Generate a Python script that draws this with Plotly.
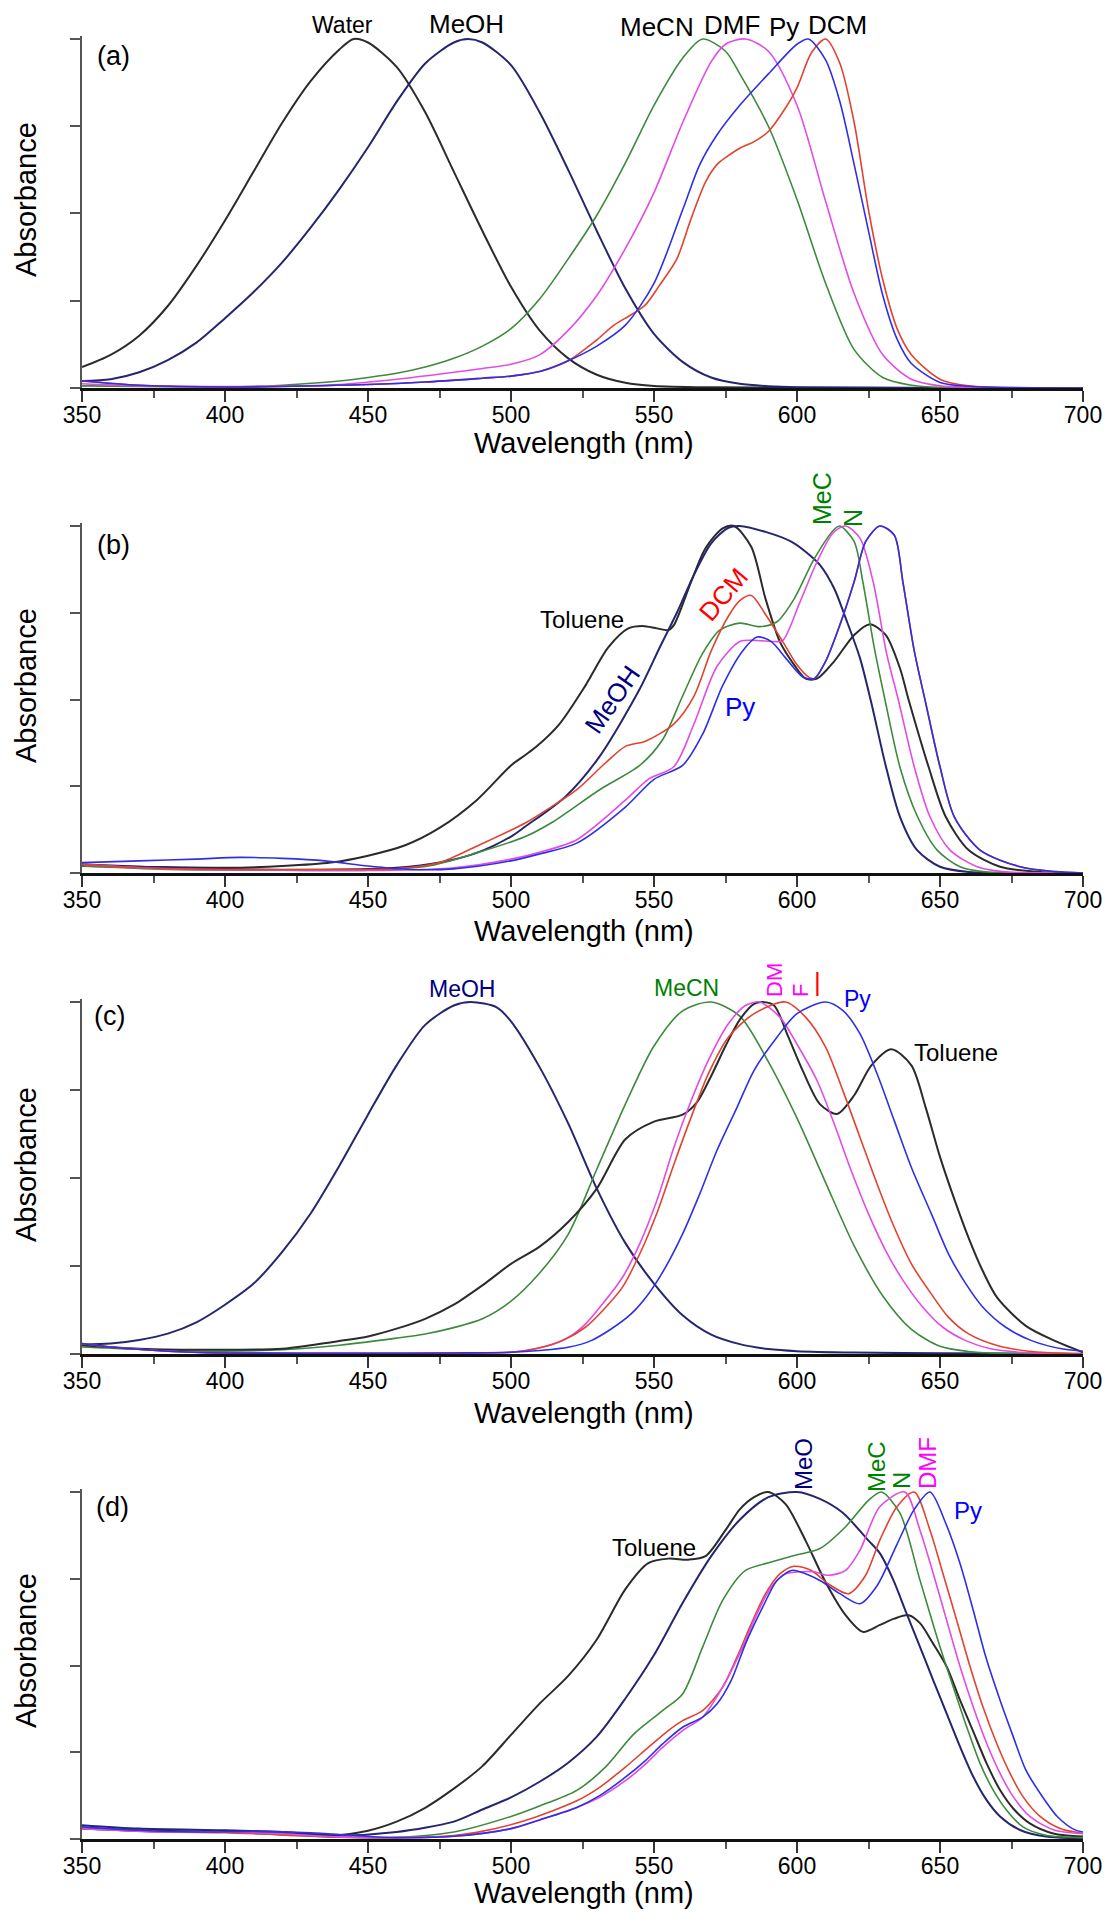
import plotly.graph_objects as go

# ---------------- DATA ----------------
# Panel (a)
A_WATER_WL = [350,360,370,380,390,400,410,420,430,440,445,450,460,470,480,490,500,510,520,530,540,550,570,600,650,700]
A_WATER_AB = [0.06,0.095,0.15,0.235,0.35,0.48,0.62,0.76,0.88,0.97,1.0,0.99,0.92,0.79,0.62,0.45,0.29,0.165,0.085,0.038,0.015,0.006,0.002,0.001,0,0]
A_MEOH_WL = [350,360,370,380,390,400,410,420,430,440,450,460,470,480,485,490,500,510,520,530,540,550,560,570,580,590,600,650,700]
A_MEOH_AB = [0.02,0.025,0.045,0.08,0.13,0.2,0.275,0.36,0.46,0.57,0.69,0.82,0.93,0.99,1.0,0.99,0.925,0.79,0.625,0.45,0.285,0.155,0.075,0.03,0.012,0.005,0.002,0,0]
A_MECN_WL = [350,380,400,420,440,450,460,470,480,490,500,510,520,530,540,550,560,567,575,580,590,600,610,620,630,640,650,700]
A_MECN_AB = [0.006,0.004,0.003,0.008,0.02,0.03,0.042,0.06,0.085,0.12,0.17,0.255,0.37,0.495,0.645,0.81,0.945,1.0,0.965,0.90,0.75,0.54,0.30,0.11,0.03,0.008,0.002,0]
A_DMF_WL = [350,370,400,440,460,480,490,500,510,520,530,540,550,560,570,575,582,590,600,610,620,630,640,650,660,700]
A_DMF_AB = [0.012,0.006,0.004,0.01,0.025,0.045,0.056,0.068,0.095,0.165,0.265,0.40,0.56,0.76,0.935,0.985,1.0,0.965,0.81,0.535,0.27,0.095,0.025,0.006,0.002,0]
A_PY_WL = [350,370,400,450,470,490,500,510,520,530,540,550,560,566,572,580,590,600,604,610,615,620,625,630,635,640,650,660,700]
A_PY_AB = [0.02,0.008,0.003,0.01,0.017,0.028,0.034,0.047,0.078,0.12,0.18,0.30,0.51,0.64,0.725,0.81,0.90,0.985,1.0,0.94,0.82,0.64,0.45,0.265,0.14,0.07,0.016,0.005,0]
A_DCM_WL = [350,370,400,450,470,490,500,510,520,530,536,542,547,552,558,563,568,572,575,580,585,590,595,600,605,610,615,620,625,630,635,640,650,660,700]
A_DCM_AB = [0.02,0.008,0.003,0.01,0.017,0.028,0.034,0.047,0.078,0.138,0.18,0.21,0.238,0.295,0.37,0.486,0.59,0.64,0.66,0.687,0.706,0.735,0.79,0.86,0.96,1.0,0.93,0.76,0.51,0.31,0.17,0.095,0.025,0.006,0]

# Panel (b)
B_TOL_WL = [350,370,400,420,437,450,463,475,488,500,505,509,517,526,534,541,546,551,555,557,563,568,574,578,584,589,594,599,603,607,613,620,625.5,631,636,639,646,652,660,671,685,700]
B_TOL_AB = [0.02,0.018,0.015,0.02,0.03,0.05,0.08,0.13,0.21,0.31,0.34,0.365,0.43,0.54,0.65,0.705,0.712,0.705,0.70,0.715,0.84,0.936,0.993,1.0,0.94,0.79,0.667,0.60,0.56,0.56,0.61,0.686,0.717,0.686,0.59,0.5,0.306,0.162,0.066,0.018,0.003,0]
B_MEOH_WL = [350,380,410,440,460,475,488,500,505,519,531,545,552,558,564,570,576,580,589,598,603,608,613,617,622,626,631,636,642,650,660,700]
B_MEOH_AB = [0.025,0.015,0.01,0.01,0.015,0.03,0.058,0.105,0.134,0.22,0.336,0.53,0.65,0.75,0.86,0.95,0.995,1.0,0.983,0.955,0.926,0.888,0.82,0.735,0.62,0.49,0.31,0.162,0.066,0.018,0.003,0]
B_DCM_WL = [350,370,400,440,460,475,488,505,514,523,533,540,547,557,564,570,576,580,584,589,595,600,604,606,610,615,620,624,629,634,637,641,645,650,655,664,678,690,700]
B_DCM_AB = [0.025,0.015,0.01,0.01,0.012,0.03,0.077,0.144,0.19,0.24,0.317,0.365,0.38,0.43,0.51,0.64,0.74,0.785,0.80,0.745,0.667,0.60,0.565,0.56,0.61,0.715,0.84,0.955,1.0,0.974,0.84,0.64,0.49,0.306,0.162,0.066,0.018,0.004,0]
B_MECN_WL = [350,380,420,450,471,488,505,514,531,545,553,560,567,573,580,587,593,599,606,613,615,620,623,627,631,636,642,649,657,665,700]
B_MECN_AB = [0.02,0.01,0.008,0.008,0.02,0.058,0.105,0.144,0.24,0.31,0.384,0.51,0.633,0.70,0.72,0.71,0.724,0.79,0.905,0.99,1.0,0.955,0.84,0.65,0.49,0.305,0.165,0.066,0.018,0.004,0]
B_DMF_WL = [350,380,420,460,480,500,510,523,540,548,557,564,572,580,586,592,595,601,607,612.6,617,622,626.6,631.4,635.4,641,646.5,653.5,663,672,700]
B_DMF_AB = [0.025,0.012,0.008,0.008,0.015,0.04,0.06,0.096,0.21,0.27,0.307,0.43,0.595,0.667,0.67,0.667,0.67,0.78,0.897,0.98,1.0,0.965,0.84,0.63,0.5,0.306,0.162,0.066,0.018,0.004,0]
B_PY_WL = [350,370,390,405,420,435,450,465,480,500,510,523,540,550,560,567,574,581,586,591,596,602,606,610,615,620,624,629,634,637,641,645,650,655,664,678,690,700]
B_PY_AB = [0.03,0.035,0.04,0.045,0.042,0.035,0.02,0.01,0.012,0.035,0.055,0.086,0.19,0.27,0.31,0.40,0.54,0.64,0.68,0.667,0.62,0.565,0.56,0.61,0.715,0.84,0.955,1.0,0.974,0.84,0.64,0.49,0.306,0.162,0.066,0.018,0.004,0]

# Panel (c)
C_MEOH_WL = [350,360,370,380,390,400,410,420,430,440,450,460,470,480,486,495,500,510,520,530,540,550,560,570,580,590,600,620,650,700]
C_MEOH_AB = [0.027,0.03,0.04,0.058,0.09,0.14,0.2,0.29,0.4,0.535,0.68,0.82,0.935,0.99,1.0,0.985,0.945,0.815,0.655,0.47,0.315,0.2,0.11,0.055,0.028,0.014,0.008,0.004,0.002,0.001]
C_MECN_WL = [350,380,400,420,440,460,470,480,490,500,510,520,530,540,550,560,570,580,590,600,610,620,630,640,650,660,670,700]
C_MECN_AB = [0.02,0.01,0.008,0.012,0.025,0.045,0.057,0.075,0.10,0.15,0.23,0.34,0.525,0.71,0.875,0.975,1.0,0.96,0.83,0.67,0.487,0.307,0.165,0.07,0.022,0.007,0.002,0]
C_TOL_WL = [350,370,400,420,430,440,450,460,470,480,490,500,510,520,530,540,550,560,565,570,575,580,585,588,592,597,602,608,614,620,626,633,640,645,650,655,660,665,670,680,690,700]
C_TOL_AB = [0.025,0.015,0.012,0.015,0.025,0.037,0.05,0.072,0.10,0.14,0.195,0.256,0.305,0.375,0.47,0.61,0.66,0.68,0.715,0.79,0.875,0.95,0.995,1.0,0.99,0.90,0.805,0.71,0.682,0.735,0.82,0.866,0.82,0.70,0.56,0.44,0.33,0.235,0.16,0.08,0.038,0.005]
C_DMF_WL = [350,360,380,400,450,480,500,511,520,526,532,539,545,551,557,563,569,576,582,587,594,600,607,613,619,625,631,637,644,651,659,668,678,700]
C_DMF_AB = [0.03,0.02,0.008,0.003,0.002,0.003,0.005,0.019,0.047,0.085,0.142,0.218,0.313,0.436,0.588,0.72,0.834,0.938,0.99,1.0,0.957,0.88,0.777,0.654,0.52,0.398,0.294,0.21,0.133,0.076,0.038,0.014,0.005,0]
C_DCM_WL = [350,360,380,400,450,480,500,508,518,526,532,539,545,551,557,563,569,576,585,596,603,610,616,622,628,634,640,647,653,660,670,681,700]
C_DCM_AB = [0.03,0.02,0.008,0.003,0.002,0.003,0.005,0.014,0.038,0.076,0.123,0.19,0.284,0.40,0.54,0.673,0.796,0.90,0.967,1.0,0.957,0.872,0.749,0.616,0.483,0.36,0.256,0.17,0.104,0.057,0.024,0.008,0]
C_PY_WL = [350,360,380,400,450,480,500,510,520,528,535,542,548,554,560,566,572,579,585,593,600,610,616,622,628,634,640,647,653,659,665,673,682,693,700]
C_PY_AB = [0.03,0.02,0.008,0.003,0.002,0.003,0.005,0.01,0.019,0.038,0.071,0.114,0.17,0.246,0.341,0.455,0.578,0.70,0.806,0.90,0.967,1.0,0.976,0.91,0.796,0.663,0.53,0.398,0.284,0.20,0.133,0.076,0.038,0.014,0.008]

# Panel (d)
D_TOL_WL = [350,370,400,420,437,450,460,470,480,490,500,510,520,530,540,548,555,562,568,575,580,585,590,596,603,610,617,623,629,634,639,643,647.6,652.3,657,661.6,666.3,671,675.6,681.4,689.6,700]
D_TOL_AB = [0.03,0.025,0.02,0.015,0.01,0.024,0.05,0.09,0.145,0.21,0.30,0.39,0.47,0.575,0.72,0.795,0.808,0.805,0.815,0.89,0.95,0.985,1.0,0.965,0.86,0.74,0.645,0.597,0.617,0.635,0.645,0.622,0.563,0.497,0.40,0.31,0.218,0.141,0.088,0.045,0.016,0.007]
D_MEOH_WL = [350,370,400,420,440,460,480,490,500,510,520,530,540,550,560,570,580,590,600,608,616,625,629,633.7,638.3,643,647.6,652.3,657,661.6,666.3,671,678,687,700]
D_MEOH_AB = [0.04,0.03,0.025,0.02,0.01,0.02,0.05,0.085,0.12,0.165,0.22,0.295,0.405,0.53,0.68,0.815,0.92,0.985,1.0,0.98,0.94,0.86,0.823,0.746,0.65,0.554,0.458,0.362,0.266,0.18,0.112,0.065,0.026,0.007,0.002]
D_MECN_WL = [350,380,400,420,440,460,480,500,510,523,533,543,553,560,567,574,582,591,599,608,617,625,629.5,636,643,650,654.6,659.3,664,668.6,673.3,679,687,700]
D_MECN_AB = [0.03,0.02,0.02,0.012,0.005,0.004,0.02,0.065,0.095,0.14,0.207,0.303,0.37,0.418,0.553,0.6875,0.774,0.798,0.817,0.837,0.90,0.976,1.0,0.939,0.746,0.554,0.439,0.324,0.218,0.141,0.083,0.035,0.011,0.004]
D_DCM_WL = [350,380,400,420,440,460,480,488,505,523,531,540,548,555,560,567,574,579,584,589,594,599,605,611,618,624,629,635,641,646.5,651,655.8,660.5,665,669.8,674.5,679,685,692,700]
D_DCM_AB = [0.03,0.02,0.018,0.012,0.005,0.004,0.01,0.019,0.053,0.11,0.149,0.207,0.264,0.3125,0.341,0.37,0.4375,0.524,0.62,0.707,0.764,0.786,0.774,0.735,0.707,0.76,0.862,0.958,1.0,0.89,0.766,0.631,0.497,0.381,0.276,0.189,0.122,0.065,0.03,0.016]
D_DMF_WL = [350,380,400,420,440,460,480,500,510,523,531,540,547,553,560,567,574,581,586,591,596,601,606,611,617,622,629,637.7,643,647.6,652.3,657,661.6,666.3,671,675.6,681.4,689.6,700]
D_DMF_AB = [0.03,0.02,0.02,0.015,0.006,0.004,0.008,0.03,0.055,0.091,0.12,0.168,0.216,0.264,0.3125,0.351,0.4375,0.553,0.649,0.726,0.764,0.77,0.77,0.76,0.774,0.832,0.958,1.0,0.89,0.766,0.631,0.497,0.381,0.276,0.189,0.122,0.065,0.027,0.015]
D_PY_WL = [350,370,390,410,430,445,460,480,500,510,523,531,540,547,553,560,567,572,577,582,588,593,598,601,608,615,622,628,635,641,646.5,652,657,661.6,666,671,675.6,680,685,691,697,700]
D_PY_AB = [0.035,0.025,0.02,0.022,0.018,0.01,0.004,0.008,0.03,0.055,0.091,0.125,0.178,0.226,0.274,0.322,0.351,0.389,0.457,0.5625,0.668,0.745,0.774,0.77,0.745,0.707,0.678,0.73,0.85,0.95,1.0,0.91,0.794,0.66,0.525,0.40,0.295,0.199,0.132,0.065,0.027,0.02]

X_TICKS = [350, 400, 450, 500, 550, 600, 650, 700]
X_MINOR = [375, 425, 475, 525, 575, 625, 675]
Y_TICKS = [0, 0.25, 0.5, 0.75, 1.0]
PANEL_TAGS = ["(a)", "(b)", "(c)", "(d)"]

# ---------------- STYLE / LAYOUT ----------------
W, H = 1107, 1914
X0, X1 = 82, 1083
PANELS_PX = [(39, 388), (526, 873), (1002, 1354), (1492, 1839)]
YMAX = 1.008
FONT = "Liberation Sans, Arial, Helvetica, sans-serif"

def px(x):
    return x / W

def py(y):
    return 1 - y / H

LINE = {
    "Water": ("#2b2b2b", 2.0), "Toluene": ("#2b2b2b", 2.0),
    "MeOH": ("#26266e", 2.0), "MeCN": ("#3d8a3d", 1.6),
    "DMF": ("#e24ce2", 1.6), "Py": ("#2f2fe6", 1.6), "DCM": ("#e0432f", 1.6),
}

panel_traces = [
    [("Water", A_WATER_WL, A_WATER_AB), ("MeOH", A_MEOH_WL, A_MEOH_AB), ("MeCN", A_MECN_WL, A_MECN_AB),
     ("DMF", A_DMF_WL, A_DMF_AB), ("DCM", A_DCM_WL, A_DCM_AB), ("Py", A_PY_WL, A_PY_AB)],
    [("Toluene", B_TOL_WL, B_TOL_AB), ("MeOH", B_MEOH_WL, B_MEOH_AB), ("MeCN", B_MECN_WL, B_MECN_AB),
     ("DMF", B_DMF_WL, B_DMF_AB), ("DCM", B_DCM_WL, B_DCM_AB), ("Py", B_PY_WL, B_PY_AB)],
    [("MeOH", C_MEOH_WL, C_MEOH_AB), ("MeCN", C_MECN_WL, C_MECN_AB), ("Toluene", C_TOL_WL, C_TOL_AB),
     ("DMF", C_DMF_WL, C_DMF_AB), ("DCM", C_DCM_WL, C_DCM_AB), ("Py", C_PY_WL, C_PY_AB)],
    [("Toluene", D_TOL_WL, D_TOL_AB), ("MeOH", D_MEOH_WL, D_MEOH_AB), ("MeCN", D_MECN_WL, D_MECN_AB),
     ("DCM", D_DCM_WL, D_DCM_AB), ("DMF", D_DMF_WL, D_DMF_AB), ("Py", D_PY_WL, D_PY_AB)],
]

fig = go.Figure()
layout = dict(template="none", width=W, height=H, margin=dict(l=0, r=0, t=0, b=0, autoexpand=False),
              paper_bgcolor="white", plot_bgcolor="white", showlegend=False)

for i, (top, bot) in enumerate(PANELS_PX):
    n = "" if i == 0 else str(i + 1)
    hpx = bot - top
    top_ext = top - (YMAX - 1.0) * hpx
    layout["xaxis" + n] = dict(
        domain=[px(X0), px(X1)], range=[350, 700], anchor="y" + n, automargin=False,
        tickvals=X_TICKS, ticks="outside", ticklen=11, tickwidth=2, tickcolor="#333",
        showline=True, linecolor="#111", linewidth=3, showgrid=False, zeroline=False,
        tickfont=dict(family=FONT, size=23, color="black"),
        minor=dict(tickvals=X_MINOR, ticks="outside",
                   ticklen=7, tickwidth=1.5, tickcolor="#555", showgrid=False),
    )
    layout["yaxis" + n] = dict(
        domain=[py(bot), py(top_ext)], range=[0, YMAX], anchor="x" + n, automargin=False,
        tickvals=Y_TICKS, ticks="outside", ticklen=10, tickwidth=2,
        tickcolor="#555", showticklabels=False, showline=True, linecolor="#555",
        linewidth=2, showgrid=False, zeroline=False,
    )
    for name, wl, ab in panel_traces[i]:
        col, w = LINE[name]
        fig.add_trace(go.Scatter(x=wl, y=ab, mode="lines", name=name,
                                 line=dict(color=col, width=w, shape="spline", smoothing=0.8),
                                 xaxis="x" + n, yaxis="y" + n, hoverinfo="skip"))

fig.update_layout(**layout)
try:
    fig.update_xaxes(ticklabelstandoff=-7)
except Exception:
    pass

def ann(text, x, y, size, color="black", angle=0):
    fig.add_annotation(text=text, x=px(x), y=py(y), xref="paper", yref="paper",
                       xanchor="center", yanchor="middle", showarrow=False, textangle=angle,
                       font=dict(family=FONT, size=size, color=color))

# axis titles and panel tags
TITLE_Y = [443, 931, 1413, 1893]
ABS_Y = [200, 686, 1165, 1651]
TAG_POS = [(113, 56), (113, 545), (109, 1016), (112, 1507)]
for i in range(4):
    ann("Wavelength (nm)", 584, TITLE_Y[i], 29)
    ann("Absorbance", 26, ABS_Y[i], 29, angle=-90)
    ann(PANEL_TAGS[i], TAG_POS[i][0], TAG_POS[i][1], 27)

NAVY, GREEN, MAG, BLUE, RED = "#000080", "#008000", "#ff00ff", "#0000ff", "#ff0000"
# (a)
ann("Water", 342, 25, 23)
ann("MeOH", 466, 24, 26)
ann("MeCN", 657, 27, 26)
ann("DMF", 732, 25, 26)
ann("Py", 784, 27, 26)
ann("DCM", 837, 25, 26)
# (b)
ann("Toluene", 582, 619, 24)
ann("MeOH", 612, 700, 26, NAVY, -55)
ann("DCM", 723, 595, 26, RED, -50)
ann("Py", 740, 707, 26, BLUE)
ann("MeC", 822, 499, 25, GREEN, -90)
ann("N", 853, 518, 25, GREEN, -90)
# (c)
ann("MeOH", 462, 989, 23, NAVY)
ann("MeCN", 686, 988, 23, GREEN)
ann("DM", 775, 980, 22, MAG, -90)
ann("F", 800, 991, 22, MAG, -90)
ann("|", 817, 982, 26, RED)
ann("Py", 857, 999, 23, BLUE)
ann("Toluene", 956, 1052, 24)
# (d)
ann("MeO", 803, 1464, 24, NAVY, -90)
ann("MeC", 876, 1467, 24, GREEN, -90)
ann("N", 901, 1481, 24, GREEN, -90)
ann("DMF", 927, 1463, 24, MAG, -90)
ann("Py", 968, 1510, 24, BLUE)
ann("Toluene", 654, 1547, 24)

# remove the browser's default 8px body margin so the figure sits at the page origin
fig.write_html("out.html", config={"displayModeBar": False},
               post_script="document.body.style.margin='0px';document.body.style.overflow='hidden';")
